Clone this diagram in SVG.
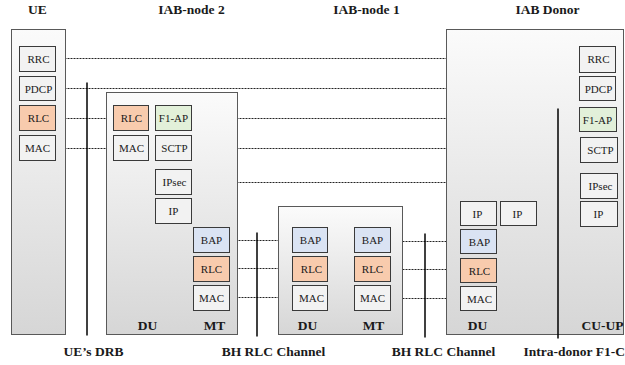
<svg xmlns="http://www.w3.org/2000/svg" width="625" height="365" viewBox="0 0 625 365" font-family="Liberation Serif, DejaVu Serif, serif">
  <defs>
    <linearGradient id="panel" x1="0" y1="0" x2="0" y2="1">
      <stop offset="0" stop-color="#fbfbfb"/>
      <stop offset="1" stop-color="#d6d6d6"/>
    </linearGradient>
    <style>
      .panel { fill: url(#panel); stroke: #595959; stroke-width: 1; }
      .blk { fill: #f2f2f2; stroke: #3a3a3a; stroke-width: 1; }
      .rlc { fill: #f8cbad; }
      .bap { fill: #dae3f3; }
      .f1 { fill: #e2f0d9; }
      .lbl { font-family: 'Liberation Serif', 'DejaVu Serif', serif; font-size: 11px; fill: #1a1a1a; text-anchor: middle; }
      .hdr { font-family: 'Liberation Serif', 'DejaVu Serif', serif; font-size: 13.5px; font-weight: bold; fill: #1a1a1a; text-anchor: middle; }
      .dot { stroke: #222; stroke-width: 1; stroke-dasharray: 2 1; fill: none; }
      .bar { stroke: #000; stroke-width: 1.5; fill: none; }
    </style>
  </defs>

  <rect width="625" height="365" fill="#fff"/>

  <!-- half-pixel offset keeps 1px strokes crisp -->
  <g transform="translate(0.5 0.5)">

  <!-- column headings -->
  <g id="headings">
    <text class="hdr" x="37" y="13">UE</text>
    <text class="hdr" x="191" y="13">IAB-node 2</text>
    <text class="hdr" x="366" y="13">IAB-node 1</text>
    <text class="hdr" x="547" y="13">IAB Donor</text>
  </g>

  <!-- peer-to-peer dotted links -->
  <g id="connectors">
    <line class="dot" x1="55" y1="58" x2="579" y2="58"/>
    <line class="dot" x1="55" y1="88" x2="579" y2="88"/>
    <line class="dot" x1="55" y1="118" x2="113" y2="118"/>
    <line class="dot" x1="191" y1="118" x2="579" y2="118"/>
    <line class="dot" x1="55" y1="148" x2="113" y2="148"/>
    <line class="dot" x1="191" y1="148" x2="580" y2="148"/>
    <line class="dot" x1="191" y1="182" x2="580" y2="182"/>
    <line class="dot" x1="536" y1="213" x2="580" y2="213"/>
    <line class="dot" x1="229" y1="240" x2="292" y2="240"/>
    <line class="dot" x1="229" y1="268" x2="292" y2="268"/>
    <line class="dot" x1="229" y1="297" x2="292" y2="297"/>
    <line class="dot" x1="390" y1="241" x2="460" y2="241"/>
    <line class="dot" x1="390" y1="269" x2="460" y2="269"/>
    <line class="dot" x1="390" y1="298" x2="460" y2="298"/>
  </g>

  <!-- UE -->
  <g id="ue">
    <rect class="panel" x="11" y="29" width="54" height="305"/>
    <rect class="blk" x="19" y="46" width="36" height="25"/>
    <text class="lbl" x="38" y="62">RRC</text>
    <rect class="blk" x="19" y="76" width="36" height="24"/>
    <text class="lbl" x="38" y="92">PDCP</text>
    <rect class="blk rlc" x="19" y="105" width="36" height="25"/>
    <text class="lbl" x="38" y="121">RLC</text>
    <rect class="blk" x="19" y="135" width="36" height="25"/>
    <text class="lbl" x="37" y="151">MAC</text>
  </g>

  <!-- IAB-node 2 -->
  <g id="iab-node-2">
    <rect class="panel" x="106" y="92" width="131" height="242"/>
    <rect class="blk rlc" x="113" y="105" width="35" height="25"/>
    <text class="lbl" x="131" y="121">RLC</text>
    <rect class="blk f1" x="155" y="105" width="36" height="25"/>
    <text class="lbl" x="173" y="121">F1-AP</text>
    <rect class="blk" x="113" y="135" width="35" height="25"/>
    <text class="lbl" x="131" y="151">MAC</text>
    <rect class="blk" x="155" y="135" width="36" height="25"/>
    <text class="lbl" x="174" y="151">SCTP</text>
    <rect class="blk" x="155" y="169" width="36" height="25"/>
    <text class="lbl" x="174" y="185">IPsec</text>
    <rect class="blk" x="155" y="198" width="36" height="25"/>
    <text class="lbl" x="173" y="214">IP</text>
    <rect class="blk bap" x="193" y="227" width="36" height="25"/>
    <text class="lbl" x="211" y="243">BAP</text>
    <rect class="blk rlc" x="193" y="256" width="36" height="25"/>
    <text class="lbl" x="211" y="272">RLC</text>
    <rect class="blk" x="193" y="285" width="36" height="25"/>
    <text class="lbl" x="211" y="301">MAC</text>
    <text class="hdr" x="147" y="329">DU</text>
    <text class="hdr" x="214" y="329">MT</text>
  </g>

  <!-- IAB-node 1 -->
  <g id="iab-node-1">
    <rect class="panel" x="278" y="206" width="124" height="128"/>
    <rect class="blk bap" x="292" y="227" width="35" height="25"/>
    <text class="lbl" x="310" y="243">BAP</text>
    <rect class="blk rlc" x="292" y="256" width="35" height="25"/>
    <text class="lbl" x="311" y="272">RLC</text>
    <rect class="blk" x="292" y="285" width="35" height="25"/>
    <text class="lbl" x="311" y="301">MAC</text>
    <rect class="blk bap" x="354" y="227" width="36" height="25"/>
    <text class="lbl" x="372" y="243">BAP</text>
    <rect class="blk rlc" x="354" y="256" width="36" height="25"/>
    <text class="lbl" x="372" y="272">RLC</text>
    <rect class="blk" x="354" y="285" width="36" height="25"/>
    <text class="lbl" x="372" y="301">MAC</text>
    <text class="hdr" x="307" y="329">DU</text>
    <text class="hdr" x="373" y="329">MT</text>
  </g>

  <!-- IAB Donor -->
  <g id="iab-donor">
    <rect class="panel" x="446" y="29" width="177" height="305"/>
    <rect class="blk" x="579" y="46" width="36" height="26"/>
    <text class="lbl" x="598" y="62">RRC</text>
    <rect class="blk" x="579" y="76" width="36" height="24"/>
    <text class="lbl" x="598" y="92">PDCP</text>
    <rect class="blk f1" x="579" y="107" width="37" height="24"/>
    <text class="lbl" x="597" y="123">F1-AP</text>
    <rect class="blk" x="580" y="137" width="37" height="25"/>
    <text class="lbl" x="600" y="153">SCTP</text>
    <rect class="blk" x="580" y="173" width="37" height="25"/>
    <text class="lbl" x="600" y="189">IPsec</text>
    <rect class="blk" x="580" y="201" width="37" height="25"/>
    <text class="lbl" x="598" y="217">IP</text>
    <rect class="blk" x="460" y="201" width="36" height="24"/>
    <text class="lbl" x="477" y="217">IP</text>
    <rect class="blk" x="500" y="201" width="36" height="24"/>
    <text class="lbl" x="517" y="217">IP</text>
    <rect class="blk bap" x="460" y="229" width="36" height="24"/>
    <text class="lbl" x="479" y="245">BAP</text>
    <rect class="blk rlc" x="460" y="258" width="36" height="24"/>
    <text class="lbl" x="479" y="274">RLC</text>
    <rect class="blk" x="460" y="286" width="36" height="24"/>
    <text class="lbl" x="479" y="302">MAC</text>
    <text class="hdr" x="477" y="329">DU</text>
    <text class="hdr" x="602" y="329">CU-UP</text>
  </g>

  <!-- interface bars and their captions -->
  <g id="interfaces">
    <line class="bar" x1="86.5" y1="82" x2="86.5" y2="335"/>
    <line class="bar" x1="256.5" y1="232" x2="256.5" y2="336"/>
    <line class="bar" x1="424.5" y1="233" x2="424.5" y2="337"/>
    <line class="bar" x1="557.5" y1="108" x2="557.5" y2="338"/>
    <text class="hdr" x="93" y="355">UE’s DRB</text>
    <text class="hdr" x="273" y="355">BH RLC Channel</text>
    <text class="hdr" x="443" y="355">BH RLC Channel</text>
    <text class="hdr" x="523" y="355" style="text-anchor:start">Intra-donor F1-C</text>
  </g>

  </g>
</svg>
